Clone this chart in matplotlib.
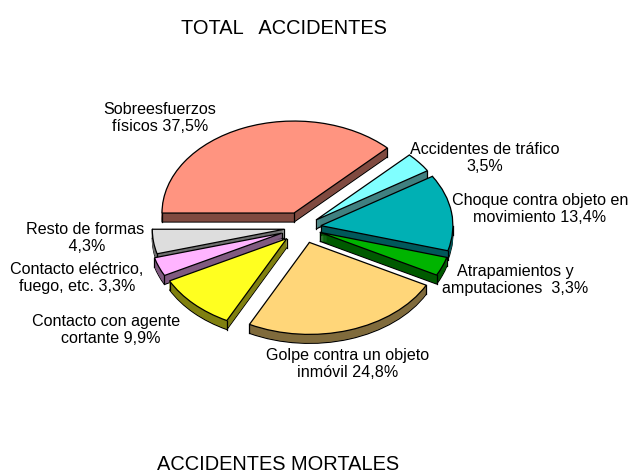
import math
import matplotlib
matplotlib.use('Agg')
import matplotlib.pyplot as plt

plt.rcParams['font.family'] = ['Liberation Sans', 'DejaVu Sans']

# clockwise from the left
names = ['Sobreesfuerzos', 'Trafico', 'Choque', 'Atrapamientos', 'Golpe', 'Cortante', 'Electrico', 'Resto']
values = [37.5, 3.5, 13.4, 3.3, 24.8, 9.9, 3.3, 4.3]
tops = ['#FF9480', '#80FFFF', '#00B0B4', '#00B400', '#FFD679', '#FFFF20', '#FFB4FF', '#DDDDDD']
sides = ['#804A40', '#408080', '#00585A', '#005A00', '#806B3C', '#808010', '#805A80', '#6E6E6E']
explode = [0.17, 0.13, 0.14, 0.14, 0.17, 0.17, 0.17, 0.14]
# paint order, back pieces last as in the original
order = [7, 1, 4, 6, 2, 5, 3, 0]

W, H = 630, 475
cx, cy = 302.6, 227.5
rx, ry = 132, 92
depth = 9

fig = plt.figure(figsize=(6.3, 4.75), dpi=100, facecolor='white')
ax = fig.add_axes([0, 0, 1, 1])

# side layers, bottom one is outlined
for d in range(depth, 0, -1):
    wedges, _ = ax.pie(values, explode=explode, colors=sides, startangle=180, counterclock=False,
                       center=(0, -d / ry), radius=1, normalize=True,
                       wedgeprops={'linewidth': 0.8 if d == depth else 0.3,
                                   'edgecolor': 'black' if d == depth else None})
    for i, w in enumerate(wedges):
        w.set_zorder(order[i] * 10 + 1)
        if d != depth:
            w.set_edgecolor(sides[i])
            w.set_zorder(order[i] * 10 + 2)

wedges, _ = ax.pie(values, explode=explode, colors=tops, startangle=180, counterclock=False,
                   radius=1, normalize=True, wedgeprops={'linewidth': 0.9, 'edgecolor': 'black'})

for i, w in enumerate(wedges):
    w.set_zorder(order[i] * 10 + 5)
    # vertical edges of the slab
    x0, y0 = w.center
    xs = [x0]
    ys = [y0]
    angles = [w.theta1, w.theta2] + [a for a in (-360, -180, 0, 180, 360) if w.theta1 < a < w.theta2]
    for a in angles:
        xs.append(x0 + math.cos(math.radians(a)))
        ys.append(y0 + math.sin(math.radians(a)))
    for x, y in zip(xs, ys):
        ax.plot([x, x], [y, y - depth / ry], color='black', lw=0.9, zorder=order[i] * 10 + 3)

ax.set_aspect('auto')
ax.set_xlim(-cx / rx, (W - cx) / rx)
ax.set_ylim(-(H - cy) / ry, cy / ry)
ax.axis('off')


def label(px, py, s, size=11.6):
    fig.text(px / W, 1 - py / H, s, ha='center', va='center', fontsize=size,
             color='black', linespacing=1.12)


label(284, 29, 'TOTAL   ACCIDENTES', 14.4)
label(278, 464.5, 'ACCIDENTES MORTALES', 14.4)
label(160, 118, 'Sobreesfuerzos\nfísicos 37,5%')
label(485, 158, 'Accidentes de tráfico\n3,5%')
label(540, 209, 'Choque contra objeto en\nmovimiento 13,4%')
label(515, 280, 'Atrapamientos y\namputaciones  3,3%')
label(348, 364, 'Golpe contra un objeto\ninmóvil 24,8%')
label(106, 330, 'Contacto con agente\n  cortante 9,9%')
label(77, 278, 'Contacto eléctrico,\nfuego, etc. 3,3%')
label(85, 238, 'Resto de formas\n 4,3%')

fig.savefig('out.png', dpi=100, facecolor='white')
